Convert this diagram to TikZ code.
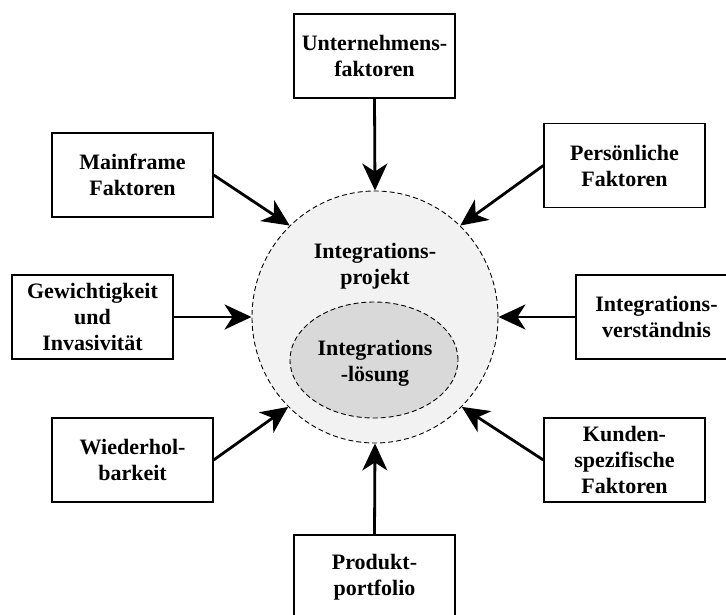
\documentclass[tikz,border=0pt]{standalone}
\usepackage{fontspec}
\setmainfont{Liberation Serif}
\usetikzlibrary{arrows.meta,shapes.geometric}
\definecolor{outerfill}{HTML}{F2F2F2}
\definecolor{innerfill}{HTML}{D9D9D9}
\begin{document}
\begin{tikzpicture}[x=1pt,y=-1pt,
  factor/.style={draw,line width=1.3pt,rectangle,minimum width=161pt,minimum height=84pt,
    align=center,inner sep=0pt,font=\fontsize{22}{26}\selectfont\bfseries},
  label/.style={align=center,inner sep=0pt,font=\fontsize{22}{26}\selectfont\bfseries},
  zone/.style={draw,dashed,line width=0.9pt,ellipse,inner sep=0pt,dash pattern=on 5pt off 3pt},
  arr/.style={line width=2.8pt,-{Stealth[length=27pt,width=25pt,inset=8pt]}}]
\useasboundingbox (0,0) rectangle (726,615);

% central project zone and the solution inside it
\node[zone,fill=outerfill,minimum width=246pt,minimum height=252pt] (proj) at (375,317) {};
\node[zone,fill=innerfill,minimum width=168pt,minimum height=116pt] (sol) at (374,360) {};
\node[label] (projtext) at (375,266) {Integrations-\\projekt};
\node[label] (soltext) at (375,363) {Integrations\\-lösung};

% influencing factors
\node[factor] (unt) at (374.5,56) {Unternehmens-\\faktoren};
\node[factor] (mf) at (132.5,175) {Mainframe\\Faktoren};
\node[factor] (pers) at (624.5,165.5) {Persönliche\\Faktoren};
\node[factor] (gew) at (92.5,317) {Gewichtigkeit\\und\\Invasivität};
\node[factor] (ivs) at (656.5,317) {Integrations-\\verständnis};
\node[factor] (wdh) at (132.5,460) {Wiederhol-\\barkeit};
\node[factor] (kun) at (624.5,460) {Kunden-\\spezifische\\Faktoren};
\node[factor] (prod) at (374.5,577) {Produkt-\\portfolio};

% arrows into the project zone
\draw[arr] (unt.south) -- (proj.north);
\draw[arr] (mf.east) -- (proj.133);
\draw[arr] (pers.west) -- (proj.47);
\draw[arr] (gew.east) -- (proj.west);
\draw[arr] (ivs.west) -- (proj.east);
\draw[arr] (wdh.east) -- (proj.226);
\draw[arr] (kun.west) -- (proj.-46);
\draw[arr] (prod.north) -- (proj.south);
\end{tikzpicture}
\end{document}
